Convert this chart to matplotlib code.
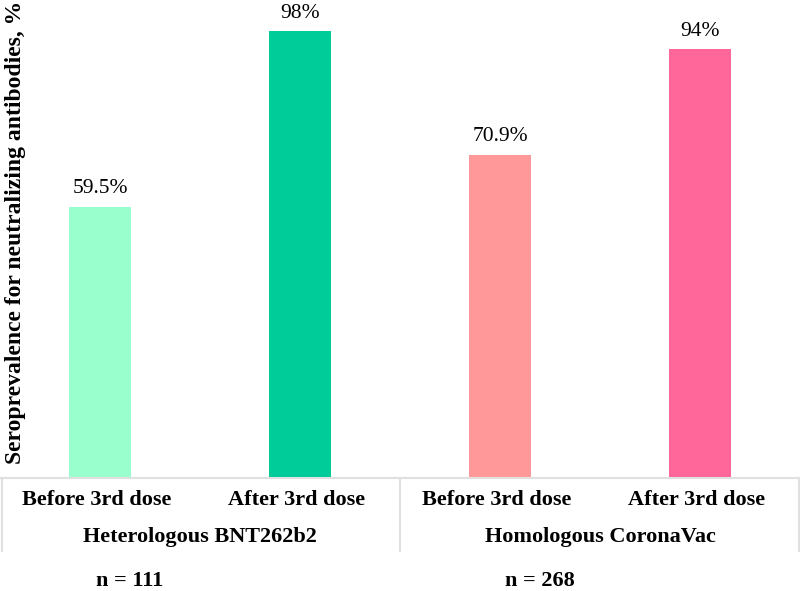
import matplotlib.pyplot as plt

plt.rcParams['font.family'] = ['Liberation Serif', 'DejaVu Serif']

doses = ['Before 3rd dose', 'After 3rd dose', 'Before 3rd dose', 'After 3rd dose']
values = [59.5, 98, 70.9, 94]
value_labels = ['59.5%', '98%', '70.9%', '94%']
groups = ['Heterologous BNT262b2', 'Homologous CoronaVac']
group_n = ['n = 111', 'n = 268']
colors = ['#99FFCC', '#00CC99', '#FF9999', '#FF6699']

W, H = 800, 591
fig = plt.figure(figsize=(W / 100, H / 100), dpi=100)
base = 478
ax = fig.add_axes([0, 1 - base / H, 1, base / H])

x = list(range(len(values)))
ax.bar(x, values, width=0.31, color=colors)
for xi, v, lab in zip(x, values, value_labels):
    ax.annotate(lab, (xi, v), xytext=(0, 6), textcoords='offset points',
                ha='center', va='bottom', fontsize=15.5)

ax.set_xlim(-0.5, 3.5)
ax.set_ylim(0, base / 4.561)
ax.axis('off')

# table-like category axis below the bars
gray = '#E0E0E0'
tr = ax.transAxes
depth = -(551 - base) / base
ax.plot([0, 1], [0, 0], color=gray, lw=1.5, transform=tr, clip_on=False)
for xv in [0.003, 0.5, 0.999]:
    ax.plot([xv, xv], [0, depth], color=gray, lw=1.5, transform=tr, clip_on=False)

for xi, d in zip(x, doses):
    fig.text((100 + 200 * xi) / W - 0.004, 1 - 500 / H, d, ha='center', va='center',
             fontsize=16, fontweight='bold')
for gi, g in enumerate(groups):
    fig.text((200 + 400 * gi) / W, 1 - 537 / H, g, ha='center', va='center',
             fontsize=16, fontweight='bold')
for gi, n in enumerate(group_n):
    fig.text((130 + 400 * gi + 10 * gi) / W, 1 - 581 / H, n, ha='center', va='center',
             fontsize=16, fontweight='bold')

fig.text(16 / W, 1 - 232 / H, 'Seroprevalence for neutralizing antibodies, %',
         rotation=90, ha='center', va='center', fontsize=17, fontweight='bold')

fig.savefig('out.png', dpi=100)
